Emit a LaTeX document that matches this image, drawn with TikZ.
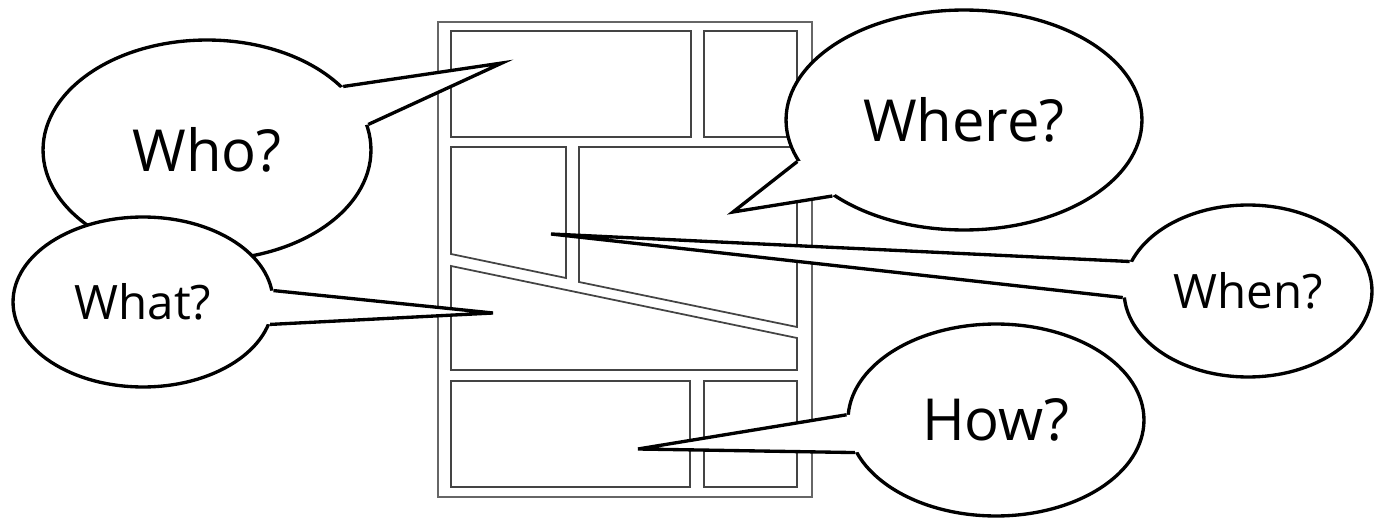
\documentclass[tikz,border=0pt]{standalone}
\usepackage{fontspec}
\setmainfont{Open Sans}
\usetikzlibrary{shapes.geometric,calc}
\definecolor{panelgrey}{HTML}{444444}
\definecolor{framegrey}{HTML}{666666}

\begin{document}
\begin{tikzpicture}[x=0.02cm, y=-0.02cm,
    panel/.style={draw=panelgrey, line width=1pt},
    bubble/.style={ellipse, draw, fill=white, line width=1.9pt, inner sep=0pt},
    big/.style={font=\fontsize{33}{36}\selectfont},
    small/.style={font=\fontsize{27}{30}\selectfont}]
  \useasboundingbox (0,0) rectangle (1376,520);

  % comic page
  \draw[panel, draw=framegrey] (438,22) rectangle (812,497);
  \draw[panel] (451,31) rectangle (691,137);
  \draw[panel] (704,31) rectangle (797,137);
  \draw[panel] (451,147) -- (566,147) -- (566,278) -- (451,254) -- cycle;
  \draw[panel] (579,147) -- (797,147) -- (797,327) -- (579,282) -- cycle;
  \draw[panel] (451,266) -- (797,338) -- (797,370) -- (451,370) -- cycle;
  \draw[panel] (451,381) rectangle (690,487);
  \draw[panel] (704,381) rectangle (797,487);

  % speech bubbles
  \node[bubble, big, minimum width=6.56cm, minimum height=4.4cm] (who) at (207,150) {Who?};
  \node[bubble, small, minimum width=5.2cm, minimum height=3.4cm] (what) at (143,302) {What?};
  \node[bubble, big, minimum width=7.12cm, minimum height=4.4cm] (where) at (964,120) {Where?};
  \node[bubble, small, minimum width=4.96cm, minimum height=3.44cm] (when) at (1248,291) {When?};
  \node[bubble, big, minimum width=5.92cm, minimum height=3.84cm] (how) at (996,420) {How?};

  \coordinate (who-tip) at (502,63);
  \coordinate (what-tip) at (493,313);
  \coordinate (where-tip) at (733,212);
  \coordinate (when-tip) at (551,234);
  \coordinate (how-tip) at (638,449);

  % tails
  \foreach \b/\p/\q in {who/25/9, what/5/-10, where/194/210, when/166/183, how/178/193} {
    \fill[white] (\b.\p) -- (\b-tip) -- (\b.\q) -- ($(\b.\q)!0.2!(\b.center)$) -- ($(\b.\p)!0.2!(\b.center)$) -- cycle;
    \draw[line width=1.9pt] (\b.\p) -- (\b-tip) -- (\b.\q);
  }
\end{tikzpicture}
\end{document}
